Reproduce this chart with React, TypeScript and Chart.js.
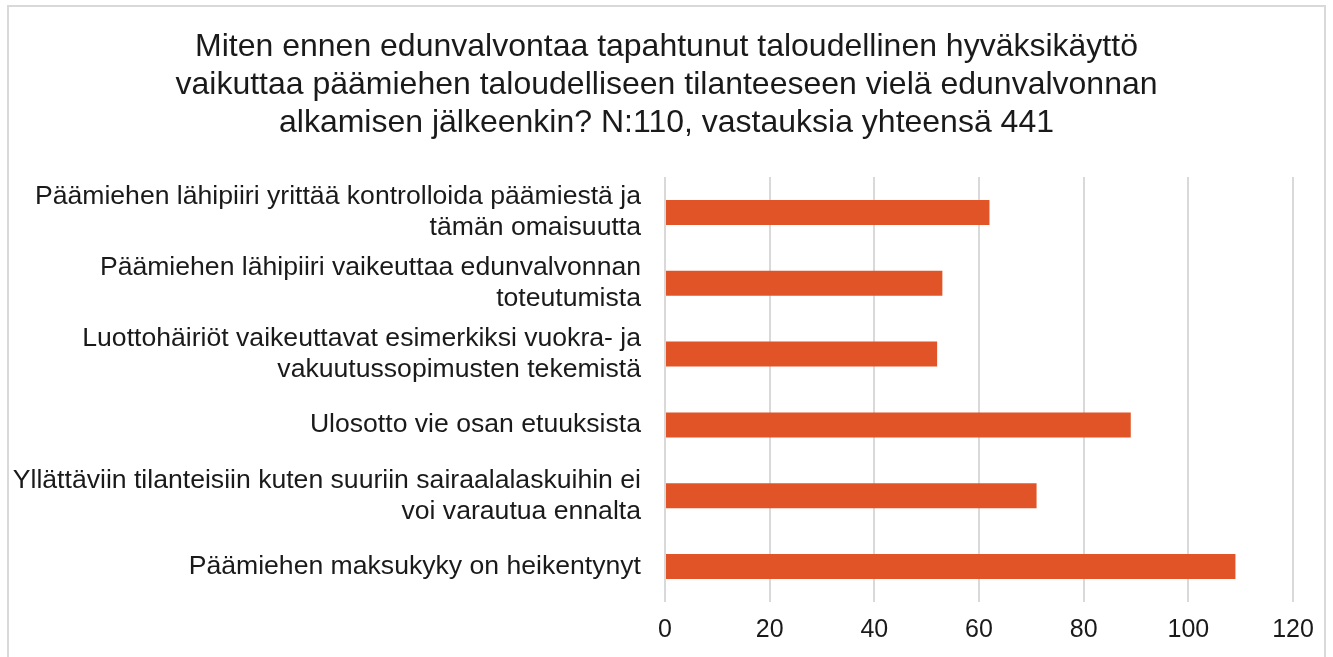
import React, { useEffect, useRef } from "react";
import { Chart, registerables } from "chart.js";

Chart.register(...registerables);

const titleLines: string[] = [
  "Miten ennen edunvalvontaa tapahtunut taloudellinen hyväksikäyttö",
  "vaikuttaa päämiehen taloudelliseen tilanteeseen vielä edunvalvonnan",
  "alkamisen jälkeenkin? N:110, vastauksia yhteensä 441",
];

const categories: string[][] = [
  ["Päämiehen lähipiiri yrittää kontrolloida päämiestä ja", "tämän omaisuutta"],
  ["Päämiehen lähipiiri vaikeuttaa edunvalvonnan", "toteutumista"],
  ["Luottohäiriöt vaikeuttavat esimerkiksi vuokra- ja", "vakuutussopimusten tekemistä"],
  ["Ulosotto vie osan etuuksista"],
  ["Yllättäviin tilanteisiin kuten suuriin sairaalalaskuihin ei", "voi varautua ennalta"],
  ["Päämiehen maksukyky on heikentynyt"],
];

const values: number[] = [62, 53, 52, 89, 71, 109];

const xTicks: number[] = [0, 20, 40, 60, 80, 100, 120];

const FONT = "'Liberation Sans', Arial, sans-serif";
const TEXT = "#1a1a1a";

const framePlugin = {
  id: "frame",
  beforeDraw(chart: any) {
    const ctx = chart.ctx;
    ctx.save();
    ctx.fillStyle = "#ffffff";
    ctx.fillRect(0, 0, chart.width, chart.height);
    ctx.strokeStyle = "#d9d9d9";
    ctx.lineWidth = 2;
    ctx.strokeRect(8, 6, 1317, 680);
    ctx.restore();
  },
  afterDraw(chart: any) {
    const ctx = chart.ctx;
    ctx.save();
    ctx.fillStyle = TEXT;
    ctx.font = `32px ${FONT}`;
    ctx.textAlign = "center";
    ctx.textBaseline = "middle";
    const cx = chart.width / 2;
    titleLines.forEach((line, i) => {
      ctx.fillText(line, cx, 47 + i * 38);
    });
    ctx.restore();
  },
};

export default function App() {
  const ref = useRef<HTMLCanvasElement | null>(null);

  useEffect(() => {
    if (!ref.current) return;
    const chart = new Chart(ref.current, {
      type: "bar",
      data: {
        labels: categories,
        datasets: [
          {
            data: values,
            backgroundColor: "#E05427",
            borderWidth: 0,
            barPercentage: 0.352,
            categoryPercentage: 1,
          },
        ],
      },
      options: {
        indexAxis: "y",
        animation: false,
        responsive: false,
        maintainAspectRatio: false,
        layout: { padding: { top: 177, bottom: -3, left: 0, right: 40 } },
        plugins: {
          legend: { display: false },
          tooltip: { enabled: false },
          title: { display: false },
        },
        scales: {
          x: {
            min: 0,
            max: 120,
            afterBuildTicks(scale: any) {
              scale.ticks = xTicks.map((v) => ({ value: v }));
            },
            grid: { color: "#d9d9d9", lineWidth: 2, drawTicks: false },
            border: { display: false },
            ticks: {
              color: TEXT,
              padding: 13,
              font: { family: FONT, size: 25 },
            },
          },
          y: {
            afterFit(scale: any) {
              scale.width = 665;
            },
            grid: { display: false, drawTicks: false },
            border: { display: false },
            ticks: {
              color: TEXT,
              padding: 24,
              autoSkip: false,
              font: { family: FONT, size: 26.6, lineHeight: "31px" as any },
            },
          },
        },
      },
      plugins: [framePlugin],
    });
    return () => chart.destroy();
  }, []);

  return (
    <div style={{ position: "absolute", left: 0, top: 0, width: 1333, height: 657 }}>
      <canvas ref={ref} width={1333} height={657} style={{ width: 1333, height: 657, display: "block" }} />
    </div>
  );
}
